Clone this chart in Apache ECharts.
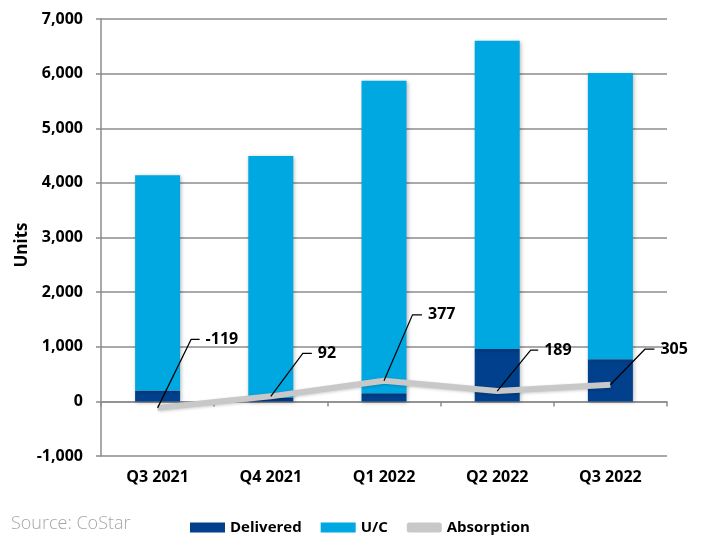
<!DOCTYPE html>
<html>
<head>
<meta charset="utf-8">
<script src="https://cdn.jsdelivr.net/npm/echarts@6/dist/echarts.min.js"></script>
<style>
html,body{margin:0;padding:0;background:#fff;}
#chart{width:703px;height:536px;}
</style>
</head>
<body>
<div id="chart"></div>
<script>
const categories = ['Q3 2021', 'Q4 2021', 'Q1 2022', 'Q2 2022', 'Q3 2022'];
const delivered = [200, 60, 150, 960, 770];
const underConstruction = [3940, 4430, 5720, 5640, 5240];
const absorption = [-119, 92, 377, 189, 305];
const yTicks = { min: -1000, max: 7000, interval: 1000 };

// callout leader styling (pixel offsets from each point: dx, dy, horizontal tail)
const calloutStyle = [
  [33.5, -68.5, 8.5],
  [32, -43, 9],
  [28.5, -66, 9.5],
  [33.5, -41, 7.5],
  [34.5, -35.5, 9.5]
];

const FONT = '"Open Sans", "DejaVu Sans", sans-serif';
const chart = echarts.init(document.getElementById('chart'), null, { renderer: 'canvas' });

const barShadow = {
  shadowBlur: 4,
  shadowColor: 'rgba(0,0,0,0.28)',
  shadowOffsetX: 1,
  shadowOffsetY: 1
};

chart.setOption({
  animation: false,
  backgroundColor: '#ffffff',
  grid: { left: 101, right: 36, top: 19, bottom: 80, containLabel: false },
  legend: {
    left: 185,
    top: 515,
    itemWidth: 35,
    itemHeight: 10,
    itemGap: 19,
    textStyle: { fontFamily: FONT, fontWeight: 'bold', fontSize: 15, color: '#000' },
    data: [
      { name: 'Delivered', icon: 'rect' },
      { name: 'U/C', icon: 'rect' },
      { name: 'Absorption', icon: 'roundRect' }
    ]
  },
  graphic: [
    {
      type: 'text',
      left: 11,
      top: 515,
      style: { text: 'Source: CoStar', fontFamily: FONT, fontSize: 18, fontWeight: 300, fill: '#a6a6a6' }
    },
    {
      type: 'text',
      x: 22,
      y: 245,
      rotation: Math.PI / 2,
      style: { text: 'Units', fontFamily: FONT, fontSize: 17, fontWeight: 'bold', fill: '#000', align: 'center', verticalAlign: 'middle' }
    }
  ],
  xAxis: {
    type: 'category',
    data: categories,
    boundaryGap: true,
    axisLine: { onZero: true, lineStyle: { color: '#8c8c8c', width: 1.5 } },
    axisTick: { show: true, alignWithLabel: false, length: 5, lineStyle: { color: '#8c8c8c', width: 1.5 } },
    axisLabel: { margin: 13, fontFamily: FONT, fontWeight: 'bold', fontSize: 16, color: '#000' }
  },
  yAxis: {
    type: 'value',
    min: yTicks.min,
    max: yTicks.max,
    interval: yTicks.interval,
    axisLine: { show: true, lineStyle: { color: '#8c8c8c', width: 1.5 } },
    axisTick: { show: true, length: 5, lineStyle: { color: '#8c8c8c', width: 1.5 } },
    splitLine: { show: true, lineStyle: { color: '#8c8c8c', width: 1.5 } },
    axisLabel: {
      margin: 18,
      fontFamily: FONT, fontWeight: 'bold', fontSize: 16, color: '#000',
      formatter: v => v.toLocaleString('en-US')
    }
  },
  series: [
    {
      name: 'Delivered',
      type: 'bar',
      stack: 'units',
      barWidth: 45,
      data: delivered,
      itemStyle: Object.assign({ color: '#00408c' }, barShadow),
      z: 2
    },
    {
      name: 'U/C',
      type: 'bar',
      stack: 'units',
      barWidth: 45,
      data: underConstruction,
      itemStyle: Object.assign({ color: '#00a8e2' }, barShadow),
      z: 2
    },
    {
      name: 'Absorption',
      type: 'line',
      data: absorption,
      symbol: 'none',
      itemStyle: { color: '#c8c8c8' },
      lineStyle: { color: '#c8c8c8', width: 6, shadowBlur: 3, shadowColor: 'rgba(0,0,0,0.2)', shadowOffsetX: 1, shadowOffsetY: 1 },
      z: 5
    },
    {
      name: 'AbsorptionCallouts',
      type: 'custom',
      coordinateSystem: 'cartesian2d',
      data: absorption.map((v, i) => [i, v]),
      z: 10,
      silent: true,
      renderItem: function (params, api) {
        const idx = params.dataIndex;
        const p = api.coord([api.value(0), api.value(1)]);
        const s = calloutStyle[idx];
        const bx = p[0] + s[0], by = p[1] + s[1];
        const ex = bx + s[2];
        return {
          type: 'group',
          children: [
            {
              type: 'polyline',
              shape: { points: [[p[0], p[1]], [bx, by], [ex, by]] },
              style: { stroke: '#000', lineWidth: 1.2, fill: null }
            },
            {
              type: 'text',
              x: ex + 6,
              y: by,
              style: {
                text: String(absorption[idx]),
                fontFamily: FONT, fontWeight: 'bold', fontSize: 16, fill: '#000',
                align: 'left', verticalAlign: 'middle'
              }
            }
          ]
        };
      }
    }
  ]
});
</script>
</body>
</html>
